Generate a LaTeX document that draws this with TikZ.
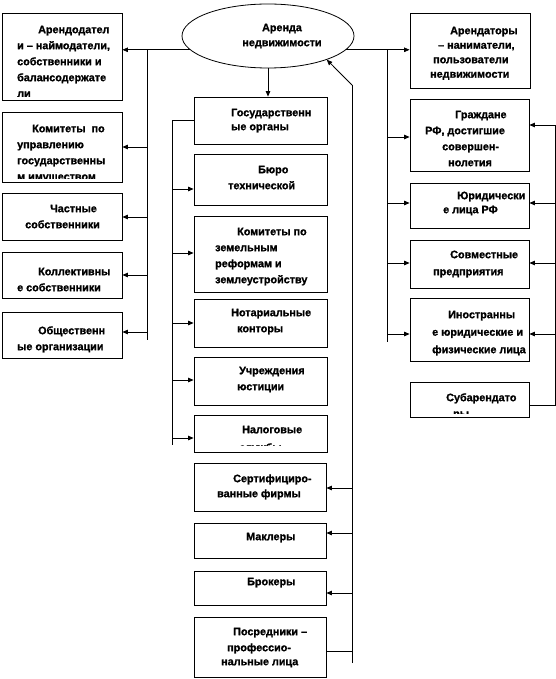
\documentclass[tikz,border=0pt]{standalone}
\usepackage{fontspec}
\setmainfont{Liberation Sans}[BoldFeatures={FakeBold=1.2}]
\usetikzlibrary{arrows.meta,shapes.geometric}
\tikzset{
  boxst/.style={draw, line width=0.8pt, inner sep=0pt, rectangle},
  ellst/.style={draw, line width=0.8pt, inner sep=0pt, ellipse},
  txt/.style={font=\fontsize{10.8}{16}\selectfont\bfseries, align=left, inner sep=0pt, anchor=north west},
  arr/.style={-{Triangle[length=5.5pt,width=4.5pt]}, line width=0.75pt},
  ln/.style={line width=0.75pt},
}
\newcommand\mybox[5]{\node[boxst, minimum width={(#4-#2)*1pt}, minimum height={(#5-#3)*1pt}] (#1) at ({(#2+#4)/2},{(#3+#5)/2}) {};}
\newcommand\mytext[5][4]{\begin{scope}\clip (#2.north west) rectangle ([yshift=#1pt]#2.south east);\node[txt] (#2t) at (#3,{#4-8}) {\rule{0pt}{8pt}#5};\end{scope}}
\begin{document}
\begin{tikzpicture}[x=1pt,y=-1pt]
\useasboundingbox (0,0) rectangle (556,679);
% ellipse
\node[ellst, minimum width=172pt, minimum height=64pt] (ell) at (268,36) {};
\node[txt, align=center, anchor=north] (ellt) at (282,23) {\rule{0pt}{8pt}Аренда\\[-1pt]недвижимости};
% boxes
\mybox{L1}{2}{13}{122}{100}
\mybox{L2}{2}{112}{122}{182}
\mybox{L3}{2}{193}{122}{240}
\mybox{L4}{2}{252}{122}{298}
\mybox{L5}{2}{312}{122}{358}
\mybox{M1}{194}{97}{327}{144}
\mybox{M2}{194}{154}{327}{205}
\mybox{M3}{194}{216}{327}{292}
\mybox{M4}{194}{299}{327}{347}
\mybox{M5}{194}{357}{327}{405}
\mybox{M6}{194}{415}{327}{452}
\mybox{M7}{194}{463}{326}{511}
\mybox{M8}{194}{523}{326}{558}
\mybox{M9}{194}{571}{326}{605}
\mybox{M10}{194}{617}{326}{677}
\mybox{R1}{410}{13}{530}{88}
\mybox{R2}{410}{99}{529}{171}
\mybox{R3}{410}{183}{529}{228}
\mybox{R4}{410}{240}{529}{288}
\mybox{R5}{410}{298}{529}{361}
\mybox{R6}{410}{382}{529}{417}
% texts
\mytext{L1}{17}{33}{\hspace*{21pt}Арендодател\\и – наймодатели,\\собственники и\\балансодержате\\ли}
\mytext{L2}{17}{132}{\hspace*{15pt}Комитеты~ по\\управлению\\государственны\\м имуществом}
\mytext{L3}{25}{212}{\hspace*{25pt}Частные\\собственники}
\mytext{L4}{17}{275}{\hspace*{21pt}Коллективны\\е собственники}
\mytext{L5}{17}{334}{\hspace*{21pt}Общественн\\ые организации}
\mytext{M1}{231}{116}{Государственн\\[-2pt]ые органы}
\mytext{M2}{228}{173}{\hspace*{30pt}Бюро\\технической}
\mytext{M3}{215}{235}{\hspace*{22pt}Комитеты по\\земельным\\реформам и\\землеустройству}
\mytext{M4}{231}{316}{Нотариальные\\\hspace*{6pt}конторы}
\mytext{M5}{237}{374}{\hspace*{2pt}Учреждения\\юстиции}
\mytext[7]{M6}{239}{433}{\hspace*{3pt}Налоговые\\[2pt]службы}
\mytext{M7}{217}{482}{\hspace*{16pt}Сертифициро-\\[-1pt]ванные фирмы}
\mytext{M8}{246}{540}{Маклеры}
\mytext{M9}{247}{585}{Брокеры}
\mytext{M10}{221}{635}{\hspace*{12pt}Посредники –\\\hspace*{6pt}профессио-\\[-2pt]нальные лица}
\mytext{R1}{430}{34}{\hspace*{20pt}Арендаторы\\[-1.5pt]\hspace*{8pt}– наниматели,\\[-1.5pt]\hspace*{3pt}пользователи\\[-1.5pt]недвижимости}
\mytext[5]{R2}{425}{118}{\hspace*{30pt}Граждане\\РФ, достигшие\\\hspace*{17pt}совершен-\\\hspace*{23pt}нолетия}
\mytext{R3}{443}{199}{\hspace*{14pt}Юридически\\[-2pt]е лица РФ}
\mytext{R4}{433}{258}{\hspace*{17pt}Совместные\\[1pt]предприятия}
\mytext{R5}{432}{318}{\hspace*{16pt}Иностранны\\[1.5pt]е юридические и\\[1.5pt]физические лица}
\mytext{R6}{446}{401}{Субарендато\\\hspace*{7pt}ры}
% ellipse down
\draw[arr] (ell.south) -- (ell.south |- M1.north);
% left trunk
\coordinate (jL) at (147,340);
\draw[arr] (ell.190) -- (ell.190 -| L1.east);
\draw[ln] (ell.190 -| jL) -- (jL);
\foreach \yy/\nn in {147/L2,217/L3,275/L4,332/L5}{
  \coordinate (a\nn) at (147,\yy);
  \draw[arr] (a\nn) -- (a\nn -| \nn.east);
}
% middle left trunk
\coordinate (jM) at (172,445);
\draw[ln] (M1.west) -- (M1.west -| jM) -- (jM);
\foreach \yy/\nn in {189/M2,253/M3,323/M4,380/M5,438/M6}{
  \coordinate (b\nn) at (172,\yy);
  \draw[arr] (b\nn) -- (b\nn -| \nn.west);
}
% middle right trunk
\coordinate (jRt) at (352,85);
\coordinate (jRb) at (352,663);
\draw[ln] (jRb) -- (jRt);
\draw[arr] (jRt) -- (ell.-22);
\foreach \yy/\nn in {488/M7,533/M8,593/M9}{
  \coordinate (c\nn) at (352,\yy);
  \draw[arr] (c\nn) -- (c\nn -| \nn.east);
}
\coordinate (cM10) at (352,651);
\draw[ln] (M10.east |- cM10) -- (cM10);
% right trunk
\coordinate (jR) at (387,342);
\draw[arr] (ell.-10) -- (ell.-10 -| R1.west);
\draw[ln] (ell.-10 -| jR) -- (jR);
\foreach \yy/\nn in {137/R2,203/R3,263/R4,334/R5}{
  \coordinate (d\nn) at (387,\yy);
  \draw[arr] (d\nn) -- (d\nn -| \nn.west);
}
% far right trunk
\coordinate (jF) at (555,125);
\foreach \yy/\nn in {125/R2,203/R3,263/R4,334/R5}{
  \coordinate (e\nn) at (555,\yy);
  \draw[arr] (e\nn) -- (e\nn -| \nn.east);
}
\coordinate (eR6) at (555,405);
\draw[ln] (R6.east |- eR6) -- (eR6) -- (jF);
\end{tikzpicture}
\end{document}
